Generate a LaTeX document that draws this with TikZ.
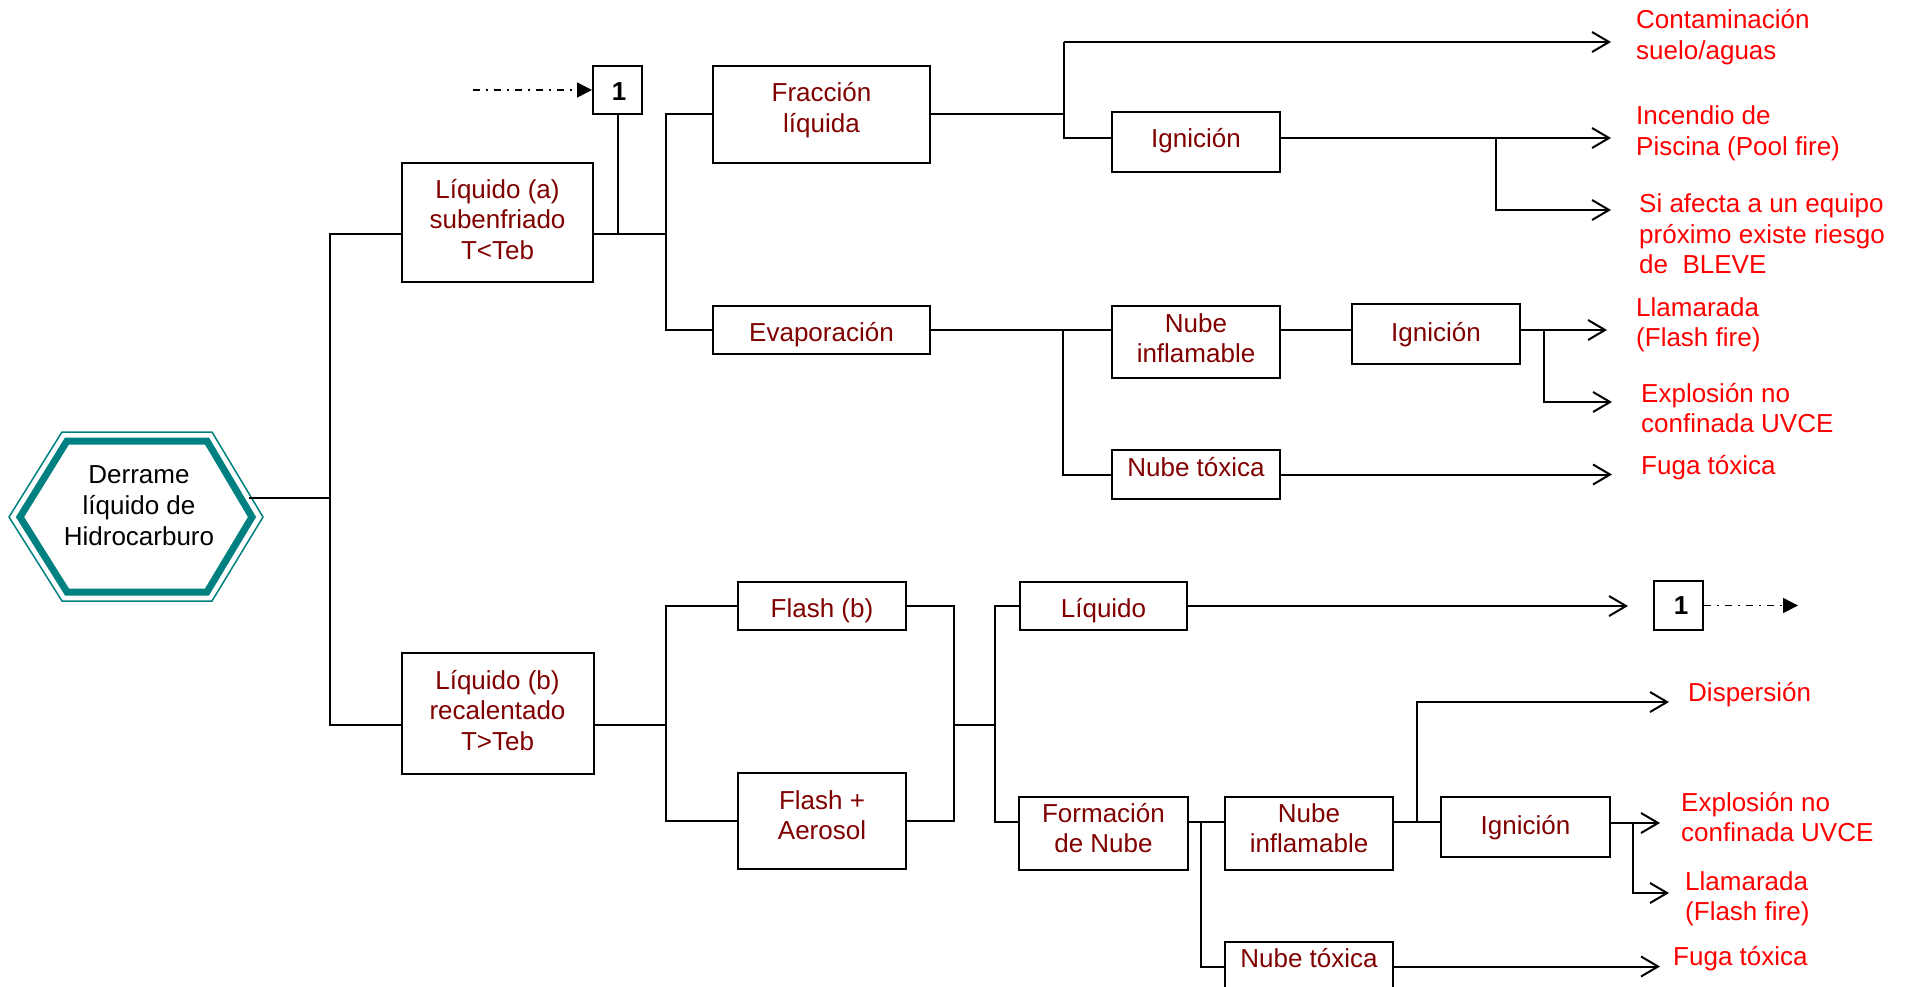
\documentclass[tikz,border=0pt]{standalone}
\usepackage{fontspec}
\setmainfont{Liberation Sans}
\usetikzlibrary{arrows.meta,calc}
\definecolor{boxtext}{RGB}{128,0,0}
\definecolor{outcome}{RGB}{255,0,0}
\definecolor{hexteal}{RGB}{0,128,128}

% text nodes are placed by the baseline of their last line
\tikzset{
  box/.style={draw=black, line width=2pt, inner sep=0pt},
  boxtxt/.style={text=boxtext, anchor=base, align=center, inner sep=0pt,
    font=\fontsize{26}{30.5}\selectfont},
  outtxt/.style={text=outcome, anchor=base west, align=left, inner sep=0pt,
    font=\fontsize{26}{30.5}\selectfont},
  link/.style={line width=2pt, draw=black},
  toout/.style={link, -{Straight Barb[length=17pt,width=20pt]}},
  refline/.style={line width=1.5pt, dash pattern=on 7pt off 6pt on 2pt off 6pt,
    -{Triangle[length=15pt,width=15pt]}},
}

\begin{document}
\begin{tikzpicture}[x=1pt, y=-1pt]
\useasboundingbox (0,0) rectangle (1906,987);

% --- initiating event: double-outlined hexagon ---
\draw[hexteal, line width=1.5pt, line join=miter]
  (9,517) -- (62,432) -- (212,432) -- (263,517) -- (212,601) -- (62,601) -- cycle;
\draw[hexteal, line width=7pt, line join=miter]
  (20,517) -- (67,441) -- (207,441) -- (252,517) -- (207,592) -- (67,592) -- cycle;
\node[anchor=base, align=center, inner sep=0pt, font=\fontsize{26}{31}\selectfont]
  (derrame) at (139,545) {Derrame\\líquido de\\Hidrocarburo};

% --- boxes ---
\node[box, minimum width=191pt, minimum height=119pt] (liqa) at (497.5,222.5) {};
\node[box, minimum width=49pt, minimum height=48pt] (one1) at (617.5,90) {};
\node[box, minimum width=217pt, minimum height=97pt] (frac) at (821.5,114.5) {};
\node[box, minimum width=168pt, minimum height=60pt] (ign1) at (1196,142) {};
\node[box, minimum width=217pt, minimum height=48pt] (evap) at (821.5,330) {};
\node[box, minimum width=168pt, minimum height=72pt] (nubeinf1) at (1196,342) {};
\node[box, minimum width=168pt, minimum height=60pt] (ign2) at (1436,334) {};
\node[box, minimum width=168pt, minimum height=49pt] (nubetox1) at (1196,474.5) {};
\node[box, minimum width=192pt, minimum height=121pt] (liqb) at (497.5,713.5) {};
\node[box, minimum width=168pt, minimum height=48pt] (flashb) at (822,606) {};
\node[box, minimum width=168pt, minimum height=96pt] (aerosol) at (822,821) {};
\node[box, minimum width=167pt, minimum height=48pt] (liquido) at (1103.5,606) {};
\node[box, minimum width=49pt, minimum height=49pt] (one2) at (1678.5,605.5) {};
\node[box, minimum width=169pt, minimum height=73pt] (formacion) at (1103.5,833.5) {};
\node[box, minimum width=168pt, minimum height=73pt] (nubeinf2) at (1309,833.5) {};
\node[box, minimum width=169pt, minimum height=60pt] (ign3) at (1525.5,827) {};
\node[box, minimum width=168pt, minimum height=49pt] (nubetox2) at (1309,966.5) {};

% --- box labels ---
\node[boxtxt] (liqa-t) at (497.5,259) {Líquido (a)\\subenfriado\\T<Teb};
\node[boxtxt, text=black, font=\fontsize{26}{30.5}\selectfont\bfseries] (one1-t) at (619,101) {1};
\node[boxtxt] (frac-t) at (821.5,132.5) {Fracción\\líquida};
\node[boxtxt] (ign1-t) at (1196,148) {Ignición};
\node[boxtxt] (evap-t) at (821.5,341) {Evaporación};
\node[boxtxt] (nubeinf1-t) at (1196,362.5) {Nube\\inflamable};
\node[boxtxt] (ign2-t) at (1436,341) {Ignición};
\node[boxtxt] (nubetox1-t) at (1196,476) {Nube tóxica};
\node[boxtxt] (liqb-t) at (497.5,750) {Líquido (b)\\recalentado\\T>Teb};
\node[boxtxt] (flashb-t) at (822,617) {Flash (b)};
\node[boxtxt] (aerosol-t) at (822,839.5) {Flash +\\Aerosol};
\node[boxtxt] (liquido-t) at (1103.5,617) {Líquido};
\node[boxtxt, text=black, font=\fontsize{26}{30.5}\selectfont\bfseries] (one2-t) at (1681,614) {1};
\node[boxtxt] (formacion-t) at (1103.5,852.5) {Formación\\de Nube};
\node[boxtxt] (nubeinf2-t) at (1309,852.5) {Nube\\inflamable};
\node[boxtxt] (ign3-t) at (1525.5,834) {Ignición};
\node[boxtxt] (nubetox2-t) at (1309,967) {Nube tóxica};

% --- outcomes ---
\node[outtxt] (out1) at (1636,59.5) {Contaminación\\suelo/aguas};
\node[outtxt] (out2) at (1636,155.5) {Incendio de\\Piscina (Pool fire)};
\node[outtxt] (out3) at (1639,273.5) {Si afecta a un equipo\\próximo existe riesgo\\de~~BLEVE};
\node[outtxt] (out4) at (1636,346.5) {Llamarada\\(Flash fire)};
\node[outtxt] (out5) at (1641,432.5) {Explosión no\\confinada UVCE};
\node[outtxt] (out6) at (1641,474) {Fuga tóxica};
\node[outtxt] (out7) at (1688,701.5) {Dispersión};
\node[outtxt] (out8) at (1681,841.5) {Explosión no\\confinada UVCE};
\node[outtxt] (out9) at (1685,920.5) {Llamarada\\(Flash fire)};
\node[outtxt] (out10) at (1673,965) {Fuga tóxica};

% --- junction points and arrow ends ---
\coordinate (hexout) at (249,498);
\coordinate (tr) at (330,498);
\coordinate (trA) at (330,234);
\coordinate (trB) at (330,725);
\coordinate (bA) at (666,234);
\coordinate (rS) at (473,90);
\coordinate (bF) at (1064,114.5);
\coordinate (bF1) at (1064,138);
\coordinate (tC) at (1064,42);
\coordinate (eC) at (1611,42);
\coordinate (eI) at (1611,138);
\coordinate (bI) at (1496,138);
\coordinate (eB) at (1611,210);
\coordinate (bE) at (1063,331);
\coordinate (eL) at (1607,330);
\coordinate (bL) at (1544,330);
\coordinate (eU) at (1612,402);
\coordinate (eT) at (1612,474);
\coordinate (bB) at (666,725);
\coordinate (bM) at (954,725);
\coordinate (bN) at (995,725);
\coordinate (bNf) at (995,822);
\coordinate (eQ) at (1628,606);
\coordinate (eR) at (1798,605.5);
\coordinate (bP) at (1201,822);
\coordinate (bS) at (1417,822);
\coordinate (eD) at (1669,702);
\coordinate (bX) at (1633,823);
\coordinate (eX) at (1660,823);
\coordinate (eY) at (1669,893);
\coordinate (eZ) at (1660,966.5);

% --- upper branch: subcooled liquid ---
\draw[link] (hexout) -- (tr);
\draw[link] (liqa.west |- trA) -- (trA) -- (trB) -- (liqb.west |- trB);
\draw[link] (liqa.east |- trA) -- (bA);
\draw[link] (one1.south) -- (one1.south |- trA);
\draw[refline] (rS) -- (one1.west);
\draw[link] (frac.west) -| (bA |- evap.west) -- (evap.west);
\draw[link] (frac.east) -- (bF);
\draw[toout] (tC) -- (eC);
\draw[link] (tC) -- (bF1) -- (ign1.west |- bF1);
\draw[toout] (ign1.east |- bF1) -- (eI);
\draw[toout] (bI) |- (eB);
\draw[link] (evap.east) -- (nubeinf1.west |- evap.east);
\draw[link] (bE) |- (nubetox1.west);
\draw[link] (nubeinf1.east |- evap.east) -- (ign2.west |- evap.east);
\draw[toout] (ign2.east |- eL) -- (eL);
\draw[toout] (bL) |- (eU);
\draw[toout] (nubetox1.east) -- (eT |- nubetox1.east);

% --- lower branch: superheated liquid ---
\draw[link] (liqb.east |- trB) -- (bB);
\draw[link] (flashb.west) -| (bB) |- (aerosol.west);
\draw[link] (flashb.east) -| (bM) |- (aerosol.east);
\draw[link] (bM) -- (bN);
\draw[link] (liquido.west) -| (bNf) -- (formacion.west |- bNf);
\draw[toout] (liquido.east) -- (eQ);
\draw[refline] (one2.east) -- (eR);
\draw[link] (formacion.east |- bNf) -- (nubeinf2.west |- bNf);
\draw[link] (bP) |- (nubetox2.west);
\draw[link] (nubeinf2.east |- bNf) -- (ign3.west |- bNf);
\draw[toout] (bS) |- (eD);
\draw[toout] (ign3.east |- bX) -- (eX);
\draw[toout] (bX) |- (eY);
\draw[toout] (nubetox2.east) -- (eZ);
\end{tikzpicture}
\end{document}
